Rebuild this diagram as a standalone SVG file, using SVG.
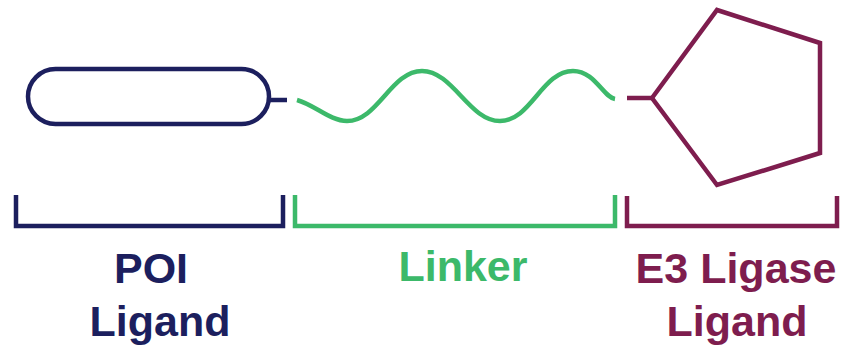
<svg xmlns="http://www.w3.org/2000/svg" width="848" height="351" viewBox="0 0 848 351">
<style>
.s{fill:none;stroke-width:4.5;stroke-linejoin:miter;stroke-linecap:butt}
.navy{stroke:#1c1f5e}.green{stroke:#3cb96a}.mag{stroke:#7e1d4e}
.t{font-family:"Liberation Sans",Arial,sans-serif;font-weight:bold;font-size:43px;text-anchor:middle}
</style>
<rect width="848" height="351" fill="#ffffff"/>
<g id="poi-ligand">
<rect class="s navy" x="28" y="69" width="241" height="55" rx="27.5"/>
</g>
<g id="linker">
<path class="s green" stroke-linecap="round" d="M297,100 C315,105 330,121 347,121 C378,121 391,71 422,71 C453,71 469,121 500,121 C531,121 542,71 573,71 C595,71 603,97 615,99"/>
</g>
<g id="e3-ligand">
<polygon class="s mag" points="652,98 717,10 820,43 820,153 717,185"/>
</g>
<g id="connectors">
<line class="s navy" x1="269" y1="100" x2="287" y2="100"/>
<line class="s mag" x1="627" y1="98" x2="652" y2="98"/>
</g>
<g id="brackets">
<polyline class="s navy" points="16,195 16,226 283,226 283,195"/>
<polyline class="s green" points="295,195 295,226 615,226 615,195"/>
<polyline class="s mag" points="627,196 627,226 837,226 837,196"/>
</g>
<g id="labels">
<text class="t" x="151" y="283" fill="#1c1f5e">POI</text>
<text class="t" x="160" y="336" fill="#1c1f5e">Ligand</text>
<text class="t" x="463" y="281" fill="#3cb96a">Linker</text>
<text class="t" x="736" y="283" fill="#7e1d4e">E3 Ligase</text>
<text class="t" x="737" y="336" fill="#7e1d4e">Ligand</text>
</g>
</svg>
